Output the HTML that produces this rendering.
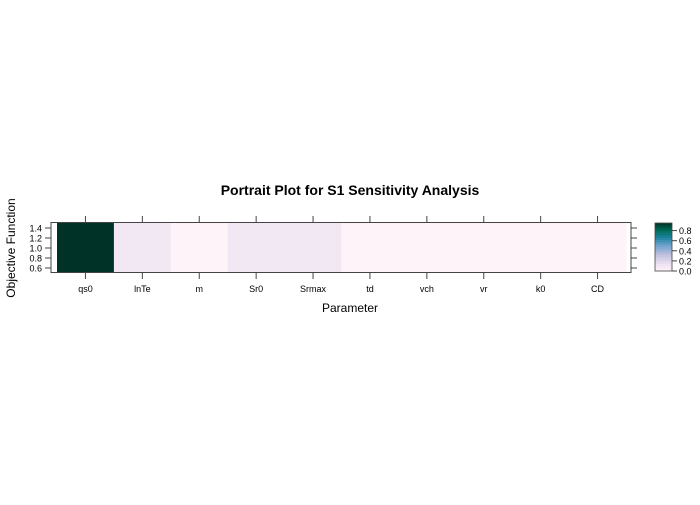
<!DOCTYPE html>
<html><head><meta charset="utf-8"><style>
body{margin:0;background:#fff;width:700px;height:500px;overflow:hidden}
text{font-family:"Liberation Sans",Arial,sans-serif}
</style></head><body>
<svg width="700" height="500" xmlns="http://www.w3.org/2000/svg">
<text x="350" y="195" text-anchor="middle" font-size="14" font-weight="bold">Portrait Plot for S1 Sensitivity Analysis</text>
<g id="cells"></g>
<rect x="51" y="222.5" width="580" height="50" fill="none" stroke="#444"/>
<g id="xt"></g>
<g id="yt"></g>
<text x="350" y="312" text-anchor="middle" font-size="12">Parameter</text>
<text transform="translate(15,248) rotate(-90)" text-anchor="middle" font-size="12">Objective Function</text>
<g id="cb"></g>
</svg>
<script>
const categories=["qs0","lnTe","m","Sr0","Srmax","td","vch","vr","k0","CD"];
const values=[1.0,0.1,0.0,0.1,0.1,0.0,0.0,0.0,0.0,0.0];
const yTicks=[0.6,0.8,1.0,1.2,1.4];
const cbTicks=[0.0,0.2,0.4,0.6,0.8];
const NS="http://www.w3.org/2000/svg";
const x0=57,cw=56.9;
const xc=i=>x0+cw*(i+0.5);
const ys=v=>273-(v-0.5)*50;
const stops=[[0,[255,243,250]],[0.15,[236,226,240]],[0.35,[190,190,222]],[0.55,[103,160,202]],[0.7,[28,130,160]],[0.85,[1,108,89]],[1,[1,50,40]]];
function col(v){v=Math.max(0,Math.min(1,v));for(let k=1;k<stops.length;k++){if(v<=stops[k][0]){const a=stops[k-1],b=stops[k],t=(v-a[0])/(b[0]-a[0]);return "rgb("+a[1].map((c,j)=>Math.round(c+(b[1][j]-c)*t)).join(",")+")";}}}
function mk(tag,at,parent){const e=document.createElementNS(NS,tag);for(const k in at)e.setAttribute(k,at[k]);parent.appendChild(e);return e;}
const cells=document.getElementById('cells'),xt=document.getElementById('xt'),yt=document.getElementById('yt'),cb=document.getElementById('cb');
categories.forEach((c,i)=>{
 const r=mk('rect',{x:x0+cw*i,y:ys(1.5),width:cw+0.5,height:50,fill:col(values[i])},cells);
 
 
 mk('line',{x1:xc(i),x2:xc(i),y1:216,y2:222,stroke:'#444'},xt);
 mk('line',{x1:xc(i),x2:xc(i),y1:273,y2:279,stroke:'#444'},xt);
 const t=mk('text',{x:xc(i),y:292,'text-anchor':'middle','font-size':9},xt);t.textContent=c;
 
 
});
yTicks.forEach(v=>{
 mk('line',{x1:45,x2:51,y1:ys(v),y2:ys(v),stroke:'#444'},yt);
 mk('line',{x1:631,x2:637,y1:ys(v),y2:ys(v),stroke:'#444'},yt);
 const t=mk('text',{x:42,y:ys(v)+3.5,'text-anchor':'end','font-size':9},yt);t.textContent=v.toFixed(1);
 
 
});
const cbTop=223,cbBot=271,cbMax=0.95,n=20;
const cy=v=>cbBot-(v/cbMax)*(cbBot-cbTop);
for(let k=0;k<n;k++){const v0=k*cbMax/n,v1=(k+1)*cbMax/n;mk('rect',{x:655,y:cy(v1),width:17,height:cy(v0)-cy(v1)+0.3,fill:col((v0+v1)/2/cbMax)},cb);}
mk('rect',{x:655,y:cbTop,width:17,height:cbBot-cbTop,fill:'none',stroke:'#444','stroke-width':0.8},cb);
cbTicks.forEach(v=>{mk('line',{x1:672,x2:677,y1:cy(v),y2:cy(v),stroke:'#444'},cb);
 const t=mk('text',{x:679,y:cy(v)+3.5,'font-size':9},cb);t.textContent=v.toFixed(1);
 
 });
</script>
</body></html>
